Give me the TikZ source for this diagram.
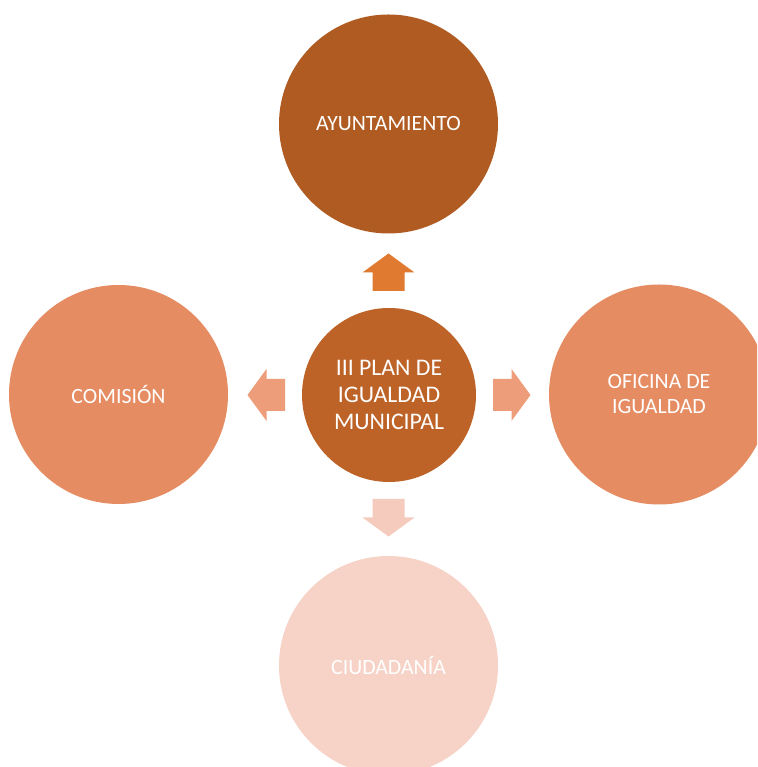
\documentclass[tikz,border=0pt]{standalone}
\usepackage{fontspec}
\setmainfont{Carlito}
\definecolor{cTop}{HTML}{AF5B21}
\definecolor{cHub}{HTML}{BD6327}
\definecolor{cSide}{HTML}{E68C62}
\definecolor{cBot}{HTML}{F7D3C7}
\definecolor{aUp}{HTML}{E07A30}
\definecolor{aSide}{HTML}{EE9D7A}
\definecolor{aDown}{HTML}{F5CBBD}
\tikzset{
  bubble/.style={circle, inner sep=0pt, text=white, align=center,
    font=\fontsize{21.8}{25}\selectfont},
  blockarrow/.pic={\fill (0,-16) -- (18.5,-16) -- (18.5,-26) -- (37.5,0)
     -- (18.5,26) -- (18.5,16) -- (0,16) -- cycle;}
}
\begin{document}
\begin{tikzpicture}[x=1pt,y=1pt]
\clip (0,0) rectangle (757,767);
\fill[white] (0,0) rectangle (757,767);
\node[bubble, fill=cTop, minimum size=219pt] (ayto) at (388.5,643) {AYUNTAMIENTO};
\node[bubble, fill=cSide, minimum size=219pt] (comision) at (118.5,372.5) {COMISIÓN};
\node[bubble, fill=cSide, minimum size=220pt] (oficina) at (659,372.5) {OFICINA DE\\IGUALDAD};
\node[bubble, fill=cBot, minimum size=219pt] (ciud) at (388.5,101.5) {CIUDADANÍA};
\node[bubble, fill=cHub, minimum size=174pt, font=\fontsize{23.8}{27}\selectfont] (hub) at (389,372) {III PLAN DE\\IGUALDAD\\MUNICIPAL};
\pic[aUp, rotate=90] at (388.5,476) {blockarrow};
\pic[aSide] at (493,372) {blockarrow};
\pic[aSide, rotate=180] at (285,372) {blockarrow};
\pic[aDown, rotate=-90] at (388.5,268) {blockarrow};
\end{tikzpicture}
\end{document}
